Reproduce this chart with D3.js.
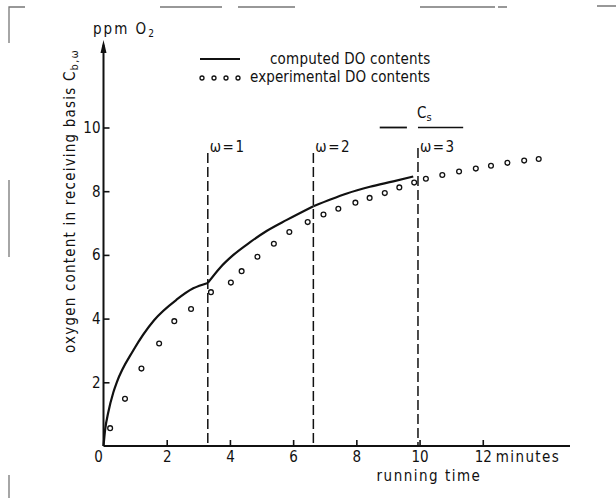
<!DOCTYPE html>
<html>
<head>
<meta charset="utf-8">
<script src="https://cdn.jsdelivr.net/npm/d3@7"></script>
<style>
  body { margin: 0; background: #fff; }
  svg { display: block; }
  text { font-family: "DejaVu Sans Condensed", "DejaVu Sans", sans-serif; fill: #111; }
  .axis text { font-size: 15px; }
  .axis .tick line { stroke: #111; stroke-width: 1.6; }
  .axis .domain { display: none; }
</style>
</head>
<body>
<script>
const width = 616;
const height = 498;

// computed DO contents, one array per filling period (minutes, ppm)
const computedT = [
  [0, 0.05, 0.15, 0.31, 0.42, 0.94, 1.6, 2.32, 2.84, 3.3],
  [3.3, 3.69, 4.11, 4.64, 5.16, 5.8, 6.64],
  [6.64, 7.2, 7.7, 8.43, 9.17, 9.8]
];
const computedC = [
  [0, 0.5, 1.05, 1.68, 2.0, 3.0, 3.95, 4.6, 4.95, 5.12],
  [5.12, 5.6, 6.0, 6.4, 6.75, 7.1, 7.53],
  [7.53, 7.75, 7.93, 8.14, 8.31, 8.46]
];

// experimental DO contents
const expT = [0.21, 0.68, 1.2, 1.76, 2.24, 2.77, 3.4, 4.03, 4.37, 4.87, 5.39, 5.88, 6.46,
  6.96, 7.43, 7.97, 8.42, 8.9, 9.36, 9.83, 10.2, 10.72, 11.25, 11.78, 12.26, 12.78, 13.31, 13.77];
const expC = [0.56, 1.48, 2.43, 3.22, 3.92, 4.3, 4.83, 5.13, 5.49, 5.94, 6.35, 6.72, 7.03,
  7.27, 7.45, 7.64, 7.79, 7.94, 8.12, 8.27, 8.39, 8.51, 8.62, 8.71, 8.8, 8.89, 8.96, 9.01];

// filling periods
const omegaT = [3.3, 6.64, 9.95];
const omegaLabel = ["ω=1", "ω=2", "ω=3"];
const csValue = 10;

const xTicks = [2, 4, 6, 8, 10, 12];
const yTicks = [2, 4, 6, 8, 10];

const svg = d3.select("body").append("svg")
  .attr("width", width)
  .attr("height", height);

const x = d3.scaleLinear().domain([0, 14.76]).range([103.5, 570]);
const y = d3.scaleLinear().domain([0, 10]).range([446, 127.5]);

// scan frame fragments
const frame = svg.append("g").attr("stroke", "#777").attr("stroke-width", 1.3).attr("fill", "none");
frame.append("path").attr("d", "M9,43V7H25");
frame.append("path").attr("d", "M160,7H222M238,7H295M420,7H495M498,7H507M597,6H616");
frame.append("path").attr("d", "M9,180V257M9,475V498");

// axes
const xAxis = d3.axisBottom(x).tickValues(xTicks).tickSize(-6).tickPadding(5).tickSizeOuter(0);
const yAxis = d3.axisLeft(y).tickValues(yTicks).tickSize(-6).tickPadding(3).tickSizeOuter(0);

svg.append("g").attr("class", "axis").attr("transform", `translate(0,${y(0)})`).call(xAxis);
svg.append("g").attr("class", "axis").attr("transform", `translate(${x(0)},0)`).call(yAxis);

// axis lines
svg.append("line")
  .attr("x1", x(0)).attr("x2", x(14.76))
  .attr("y1", y(0)).attr("y2", y(0))
  .attr("stroke", "#111").attr("stroke-width", 2);

svg.append("line")
  .attr("x1", x(0)).attr("x2", x(0))
  .attr("y1", y(0)).attr("y2", y(12.6))
  .attr("stroke", "#111").attr("stroke-width", 2);

// arrow head
svg.append("path")
  .attr("d", `M${x(0)},${y(12.75)}L${x(0) - 3},${y(12.75) + 13}L${x(0) + 3},${y(12.75) + 13}Z`)
  .attr("fill", "#111");

svg.append("text").attr("x", x(0) - 5).attr("y", y(0) + 16)
  .attr("text-anchor", "middle").attr("font-size", 15).text("0");

svg.append("text").attr("x", x(12) + 13).attr("y", y(0) + 16)
  .attr("font-size", 15).attr("letter-spacing", 1.4).text("minutes");

svg.append("text").attr("x", 429).attr("y", 481)
  .attr("text-anchor", "middle").attr("font-size", 15).attr("letter-spacing", 1.5).text("running time");

const ppm = svg.append("text").attr("x", 93).attr("y", 34).attr("font-size", 15).attr("letter-spacing", 2);
ppm.append("tspan").text("ppm O");
ppm.append("tspan").attr("font-size", 10).attr("dy", 3).text("2");

const yLab = svg.append("text")
  .attr("transform", `translate(75,201) rotate(-90)`)
  .attr("text-anchor", "middle").attr("font-size", 15).attr("letter-spacing", 1.2);
yLab.append("tspan").text("oxygen content in receiving basis C");
yLab.append("tspan").attr("font-size", 11).attr("dy", 3).text("b,ω");

// omega dashed lines
const omega = svg.append("g").selectAll("g").data(omegaT).join("g");
omega.append("line")
  .attr("x1", d => x(d)).attr("x2", d => x(d))
  .attr("y1", (d, i) => i === 2 ? 148 : 153).attr("y2", y(0))
  .attr("stroke", "#111").attr("stroke-width", 1.5)
  .attr("stroke-dasharray", "10,4");
omega.append("text")
  .attr("x", d => x(d) + 2).attr("y", 152)
  .attr("font-size", 15).attr("letter-spacing", 1.5)
  .text((d, i) => omegaLabel[i]);

// Cs marker
svg.append("line")
  .attr("x1", x(8.74)).attr("x2", x(9.6))
  .attr("y1", y(csValue)).attr("y2", y(csValue))
  .attr("stroke", "#111").attr("stroke-width", 1.8);
svg.append("line")
  .attr("x1", x(9.95)).attr("x2", x(11.38))
  .attr("y1", y(csValue)).attr("y2", y(csValue))
  .attr("stroke", "#111").attr("stroke-width", 1.5);
const cs = svg.append("text").attr("x", x(9.95) - 1).attr("y", y(csValue) - 10).attr("font-size", 15);
cs.append("tspan").text("C");
cs.append("tspan").attr("font-size", 11).attr("dy", 3).text("s");

// computed curve
const line = d3.line()
  .x(d => x(d[0]))
  .y(d => y(d[1]))
  .curve(d3.curveMonotoneX);

svg.append("g").selectAll("path")
  .data(computedT.map((ts, i) => ts.map((t, j) => [t, computedC[i][j]])))
  .join("path")
  .attr("d", line)
  .attr("fill", "none")
  .attr("stroke", "#111")
  .attr("stroke-width", 2.2);

// experimental points
svg.append("g").selectAll("circle")
  .data(expT.map((t, i) => [t, expC[i]]))
  .join("circle")
  .attr("cx", d => x(d[0]))
  .attr("cy", d => y(d[1]))
  .attr("r", 2.4)
  .attr("fill", "#fff")
  .attr("stroke", "#111")
  .attr("stroke-width", 1.3);

// legend
svg.append("line")
  .attr("x1", 200).attr("x2", 240).attr("y1", 59).attr("y2", 59)
  .attr("stroke", "#111").attr("stroke-width", 2);
svg.append("text").attr("x", 270).attr("y", 64).attr("font-size", 15).attr("letter-spacing", 0.2).text("computed DO contents");

svg.append("g").selectAll("circle")
  .data([202, 214, 226, 238])
  .join("circle")
  .attr("cx", d => d).attr("cy", 78)
  .attr("r", 2)
  .attr("fill", "#fff").attr("stroke", "#111").attr("stroke-width", 1.3);
svg.append("text").attr("x", 250).attr("y", 82).attr("font-size", 15).attr("letter-spacing", 0.1).text("experimental DO contents");
</script>
</body>
</html>
